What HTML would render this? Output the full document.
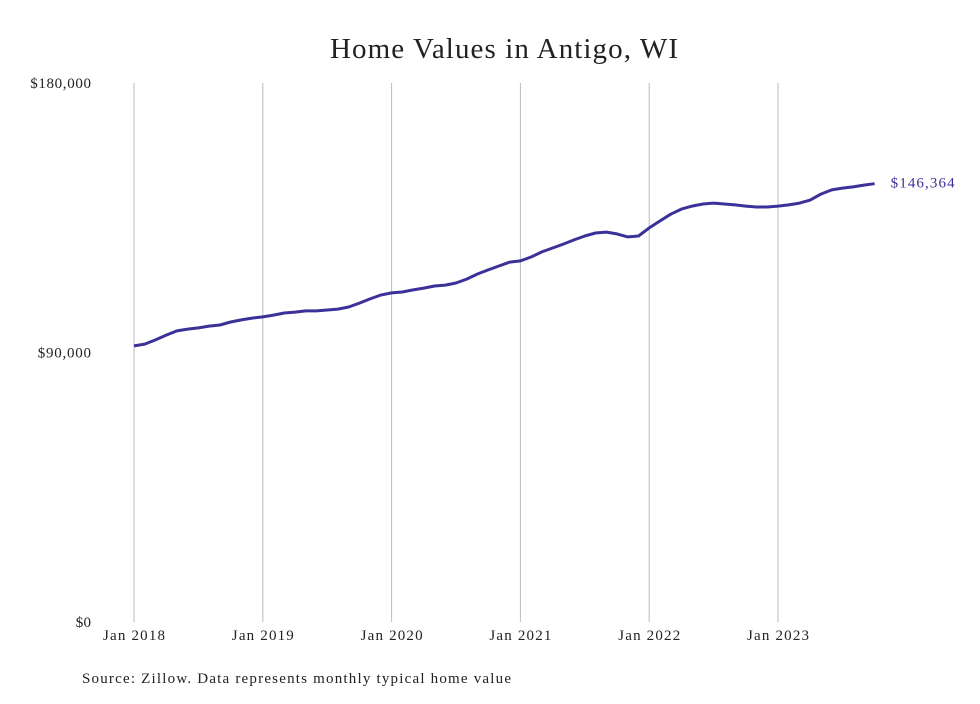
<!DOCTYPE html>
<html><head><meta charset="utf-8"><style>
body{margin:0;background:#fff;width:980px;height:699px;overflow:hidden;font-family:"Liberation Serif",serif}
</style></head><body>
<svg width="980" height="699">
<text x="504" y="58" text-anchor="middle" font-size="29" textLength="348" fill="#222">Home Values in Antigo, WI</text>
<g id="grid"></g>
<g id="yaxis"></g>
<g id="xaxis"></g>
<path id="line" fill="none" stroke="#3b3199" stroke-width="3" stroke-linejoin="round"/>
<text id="endlabel" font-size="15" fill="#3b3199"></text>
<text x="82" y="683" font-size="15" textLength="429" fill="#222">Source: Zillow. Data represents monthly typical home value</text>
</svg>
<script>
const yTicks=[0,90000,180000];
const yTickLabels=["$0","$90,000","$180,000"];
const xTickLabels=["Jan 2018","Jan 2019","Jan 2020","Jan 2021","Jan 2022","Jan 2023"];
const xTickMonths=[0,12,24,36,48,60];
const values=[92200,92800,94200,95800,97200,97800,98200,98800,99200,100200,100900,101500,
101900,102500,103200,103500,103900,103900,104200,104500,105200,106500,107900,109200,
109900,110200,110900,111500,112200,112500,113200,114500,116200,117600,118900,120200,
120600,121900,123600,124900,126200,127600,128900,129900,130200,129600,128600,128900,
131600,133900,136200,137900,138900,139600,139900,139600,139300,138900,138600,138600,
138900,139300,139900,140900,142900,144300,144900,145300,145900,146364];
const NS="http://www.w3.org/2000/svg";
const x=m=>134+m*(128.8/12);
const y=v=>622-v/180000*539;
const grid=document.getElementById('grid'),ya=document.getElementById('yaxis'),xa=document.getElementById('xaxis');
xTickMonths.forEach((m,i)=>{
 const l=document.createElementNS(NS,'line');
 
 
 l.setAttribute('x1',x(m));l.setAttribute('x2',x(m));l.setAttribute('y1',83);l.setAttribute('y2',622);
 l.setAttribute('stroke','#bbb');l.setAttribute('stroke-width','1');grid.appendChild(l);
 const t=document.createElementNS(NS,'text');
 
 
 t.setAttribute('x',x(m));t.setAttribute('y',640);t.setAttribute('text-anchor','middle');
 t.setAttribute('textLength','62');
 t.setAttribute('font-size','15');t.setAttribute('fill','#222');t.textContent=xTickLabels[i];xa.appendChild(t);
});
yTicks.forEach((v,i)=>{
 const t=document.createElementNS(NS,'text');
 
 
 t.setAttribute('x',91);t.setAttribute('y',y(v)+5);t.setAttribute('text-anchor','end');
 t.setAttribute('textLength',String(yTickLabels[i].length*7.6));
 t.setAttribute('font-size','15');t.setAttribute('fill','#222');t.textContent=yTickLabels[i];ya.appendChild(t);
});
document.getElementById('line').setAttribute('d',values.map((v,i)=>(i?'L':'M')+x(i).toFixed(1)+','+y(v).toFixed(1)).join(''));
const last=values.length-1,el=document.getElementById('endlabel');
el.setAttribute('x',x(last)+16);el.setAttribute('y',y(values[last])+4);
el.setAttribute('textLength','64');
el.textContent='$'+values[last].toLocaleString('en-US');
</script>
</body></html>
